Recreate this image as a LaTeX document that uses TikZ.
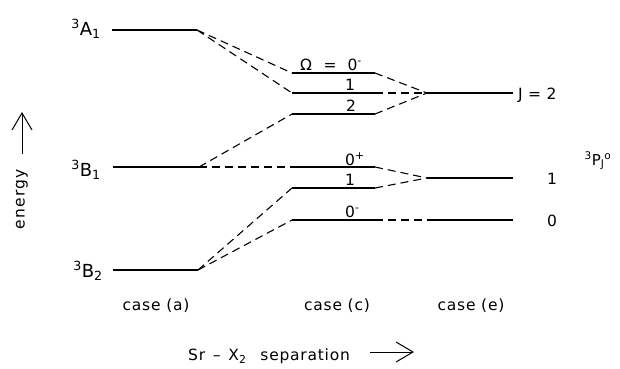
\documentclass[tikz,border=0pt]{standalone}
\usepackage{fontspec}
\setmainfont{DejaVu Sans}[LetterSpace=5]
\usetikzlibrary{arrows.meta}
\begin{document}
\begin{tikzpicture}[x=1pt,y=-1pt,
  level/.style={line width=1.9pt},
  corr/.style={line width=1.1pt,dash pattern=on 8pt off 5pt},
  lab/.style={inner sep=0pt,font=\fontsize{15.5}{18}\selectfont},
  term/.style={inner sep=0pt,font=\fontsize{18}{20}\selectfont},
  barb/.style={line width=1pt,-{Straight Barb[length=17pt,width=20pt,line width=1pt]}}]
\useasboundingbox[fill=white] (0,0) rectangle (620,368);
% case (a) levels
\coordinate (a1L) at (112,30);  \coordinate (a1R) at (197,30);
\coordinate (b1L) at (113,167); \coordinate (b1R) at (199,167);
\coordinate (b2L) at (113,270); \coordinate (b2R) at (198,270);
% case (c) levels
\coordinate (c1L) at (292,73);  \coordinate (c1R) at (375,73);
\coordinate (c2L) at (292,93);  \coordinate (c2R) at (375,93);
\coordinate (c3L) at (292,114); \coordinate (c3R) at (375,114);
\coordinate (c4L) at (292,167); \coordinate (c4R) at (375,167);
\coordinate (c5L) at (292,188); \coordinate (c5R) at (375,188);
\coordinate (c6L) at (292,220); \coordinate (c6R) at (375,220);
% case (e) levels
\coordinate (e2L) at (427,93);  \coordinate (e2R) at (513,93);
\coordinate (e1L) at (427,178); \coordinate (e1R) at (513,178);
\coordinate (e0L) at (427,220); \coordinate (e0R) at (513,220);
\foreach \p in {a1,b1,b2,c1,c2,c3,c4,c5,c6,e2,e1,e0}
  \draw[level] (\p L) -- (\p R);
% correlation lines
\draw[corr] (a1R) -- (c1L);
\draw[corr] (a1R) -- (c2L);
\draw[corr] (b1R) -- (c3L);
\draw[corr] (b1R) -- (c4L);
\draw[corr] (b2R) -- (c5L);
\draw[corr] (b2R) -- (c6L);
\draw[corr] (c1R) -- (e2L);
\draw[corr] (c2R) -- (e2L);
\draw[corr] (c3R) -- (e2L);
\draw[corr] (c4R) -- (e1L);
\draw[corr] (c5R) -- (e1L);
\draw[corr] (c6R) -- (e0L);
% term labels
\node[term] (tA1) at (86,29) {\textsuperscript{3}A\textsubscript{1}};
\node[term] (tB1) at (86,170) {\textsuperscript{3}B\textsubscript{1}};
\node[term] (tB2) at (88,271) {\textsuperscript{3}B\textsubscript{2}};
% case (c) labels
\node[lab,anchor=base east] (om) at (362,70) {Ω\hspace{0.75em}=\hspace{0.7em}0\textsuperscript{-}};
\node[lab,anchor=base] (l1) at (350,90) {1};
\node[lab,anchor=base] (l2) at (351,111) {2};
\node[lab,anchor=base west] (l0p) at (345,165) {0\textsuperscript{+}};
\node[lab,anchor=base] (l1b) at (350,185) {1};
\node[lab,anchor=base west] (l0m) at (345,217) {0\textsuperscript{-}};
% case (e) labels
\node[lab,anchor=base west] (J2) at (518,99) {J\hspace{0.35em}=\hspace{0.35em}2};
\node[lab,anchor=base] (J1) at (552,184) {1};
\node[lab,anchor=base] (J0) at (552,226) {0};
\node[lab,font=\fontsize{15}{17}\selectfont\addfontfeature{LetterSpace=0}] (P) at (598,161)
  {\textsuperscript{3}P\textsubscript{J}\textsuperscript{o}};
% case names
\node[lab,anchor=base] (ca) at (156,310) {case (a)};
\node[lab,anchor=base] (cc) at (337,310) {case (c)};
\node[lab,anchor=base] (ce) at (471,310) {case (e)};
% axes
\node[lab,rotate=90,font=\fontsize{15.5}{18}\selectfont\addfontfeature{LetterSpace=8}] (en) at (22,199) {energy};
\coordinate (eb) at (22,154); \coordinate (et) at (22,112);
\draw[barb] (eb) -- (et);
\node[lab,anchor=base west] (sep) at (188,360) {Sr\hspace{0.5em}–\hspace{0.5em}X\textsubscript{2}\hspace{0.9em}separation};
\coordinate (sa) at (370,352); \coordinate (sb) at (414,352);
\draw[barb] (sa) -- (sb);
\end{tikzpicture}
\end{document}
